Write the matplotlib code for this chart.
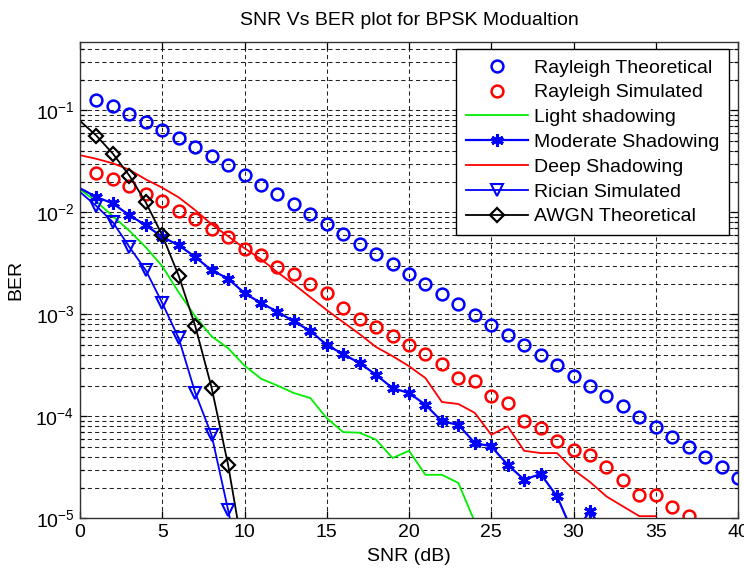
import numpy as np
import matplotlib
matplotlib.use('Agg')
import matplotlib.pyplot as plt
from matplotlib.ticker import LogLocator, NullFormatter

plt.rcParams['font.family'] = ['Liberation Sans', 'DejaVu Sans']
plt.rcParams['font.size'] = 14
plt.rcParams['mathtext.fontset'] = 'custom'
plt.rcParams['mathtext.rm'] = 'Liberation Sans'
plt.rcParams['mathtext.it'] = 'Liberation Sans:italic'
plt.rcParams['axes.unicode_minus'] = False

# SNR axis (dB)
snr = list(range(0, 41))

# values, index = SNR in dB (missing -> off the chart)
rayleigh_theory = [None, 0.127, 0.109, 0.0919, 0.0771, 0.0642, 0.0530, 0.0435, 0.0355, 0.0288,
                   0.0233, 0.0187, 0.0150, 0.0121, 0.00967, 0.00774, 0.00616, 0.00491, 0.00392, 0.00312,
                   0.00248, 0.00197, 0.00157, 0.00125, 0.000993, 0.000789, 0.000628, 0.000499, 0.000396, 0.000315,
                   0.00025, 0.000199, 0.000158, 0.000125, 9.95e-5, 7.91e-5, 6.28e-5, 4.99e-5, 3.96e-5, 3.15e-5,
                   2.5e-5]
rayleigh_sim = [None, 0.0243, 0.0214, 0.0181, 0.0150, 0.0129, 0.0103, 0.00867, 0.00692, 0.00573,
                0.00441, 0.00379, 0.00291, 0.00251, 0.00200, 0.00161, 0.00115, 0.000902, 0.000743, 0.000619,
                0.000497, 0.000406, 0.000324, 0.000240, 0.000223, 0.000157, 0.000135, 8.91e-5, 7.65e-5, 5.75e-5,
                4.70e-5, 4.20e-5, 3.16e-5, 2.39e-5, 1.68e-5, 1.68e-5, 1.28e-5, 1.05e-5]
light_shadow = [0.0168, 0.0127, 0.00914, 0.00659, 0.00454, 0.00296, 0.00164, 0.000957, 0.000607, 0.000466,
                0.000314, 0.000234, 0.000200, 0.000169, 0.000151, 9.59e-5, 7.00e-5, 6.90e-5, 5.89e-5, 3.90e-5,
                4.59e-5, 2.67e-5, 2.67e-5, 2.22e-5, 9.2e-6]
moderate_shadow = [0.0172, 0.0141, 0.0122, 0.00935, 0.00746, 0.00573, 0.00475, 0.00365, 0.00270, 0.00224,
                   0.00161, 0.00129, 0.00106, 0.000850, 0.000687, 0.000501, 0.000406, 0.000332, 0.000255, 0.000189,
                   0.000169, 0.000130, 8.91e-5, 8.26e-5, 5.47e-5, 5.07e-5, 3.35e-5, 2.39e-5, 2.72e-5, 1.64e-5,
                   7e-6, 1.17e-5, 7e-6]
deep_shadow = [0.0363, 0.0334, 0.0302, 0.0261, 0.0210, 0.0174, 0.0140, 0.0105, 0.00763, 0.00582,
               0.00444, 0.00347, 0.00258, 0.00197, 0.00147, 0.00110, 0.000837, 0.000639, 0.000477, 0.000389,
               0.000310, 0.000237, 0.000138, 0.000132, 0.000108, 6.59e-5, 7.96e-5, 4.59e-5, 4.36e-5, 4.36e-5,
               2.99e-5, 2.27e-5, 1.64e-5, 1.31e-5, 1.05e-5, 1.05e-5]
rician_sim = [0.0158, 0.0115, 0.00798, 0.00457, 0.00270, 0.00129, 0.000583, 0.000171, 6.55e-5, 1.21e-5,
              2e-6]
awgn_theory = [0.0786, 0.0563, 0.0375, 0.0229, 0.0125, 0.00595, 0.00239, 0.000773, 0.000191, 3.36e-5,
               3.87e-6]

labels = ['Rayleigh Theoretical', 'Rayleigh Simulated', 'Light shadowing', 'Moderate Shadowing',
          'Deep Shadowing', 'Rician Simulated', 'AWGN Theoretical']


def pad(vals):
    out = np.full(len(snr), np.nan)
    for i, v in enumerate(vals):
        if v is not None:
            out[i] = v
    return out


x = np.array(snr)
skip0 = list(range(1, len(snr)))

fig = plt.figure(figsize=(7.44, 5.70), dpi=100)
ax = fig.add_axes([80/744, 1-518.3/570, 658/744, 476.6/570])

ax.semilogy(x, pad(rayleigh_theory), ls='none', marker='o', ms=8.5, mfc='none', mec='b', mew=1.8,
            label=labels[0])
ax.semilogy(x, pad(rayleigh_sim), ls='none', marker='o', ms=8.5, mfc='none', mec='r', mew=1.8,
            label=labels[1])
ax.semilogy(x, pad(light_shadow), color='#00ee00', lw=1.3, label=labels[2])
ax.semilogy(x, pad(moderate_shadow), color='b', lw=1.6, marker=(6, 2, 0), ms=9, mew=2.2,
            markevery=skip0, label=labels[3])
ax.semilogy(x, pad(deep_shadow), color='r', lw=1.3, label=labels[4])
ax.semilogy(x, pad(rician_sim), color='b', lw=1.3, marker='v', ms=9, mfc='none', mew=1.5,
            markevery=skip0, label=labels[5])
ax.semilogy(x, pad(awgn_theory), color='k', lw=1.3, marker='D', ms=7, mfc='none', mew=1.6,
            markevery=skip0, label=labels[6])

ax.set_xlim(0, 40)
ax.set_ylim(1e-5, 0.47)
ax.set_xticks(range(0, 41, 5))
ax.yaxis.set_major_locator(LogLocator(base=10, numticks=10))
ax.yaxis.set_minor_locator(LogLocator(base=10, subs=np.arange(2, 10), numticks=20))
ax.yaxis.set_minor_formatter(NullFormatter())

ax.set_axisbelow(True)
ax.grid(True, which='major', color='#222222', lw=0.75, ls=(0, (4, 3)))
ax.yaxis.grid(True, which='minor', color='#222222', lw=0.75, ls=(0, (4, 3)))

ax.tick_params(which='both', direction='in', top=True, right=True, width=0.9)
ax.tick_params(which='major', length=5, pad=4)
ax.tick_params(which='minor', length=3)
for s in ax.spines.values():
    s.set_linewidth(1.0)
    s.set_color('#333333')

ax.set_title('SNR Vs BER plot for BPSK Modualtion', fontsize=14, pad=12)
ax.set_xlabel('SNR (dB)')
ax.set_ylabel('BER')
ax.yaxis.set_label_coords(-0.084, 0.5)
ax.xaxis.set_label_coords(0.5, -0.062)

leg = ax.legend(loc='upper right', bbox_to_anchor=(729/744, 1-49.3/570), bbox_transform=fig.transFigure,
                borderaxespad=0, fancybox=False, framealpha=1, edgecolor='k', numpoints=1,
                handlelength=3.2, handletextpad=0.3, labelspacing=0.37, borderpad=0.5)
leg.get_frame().set_linewidth(1.0)

fig.savefig('out.png', dpi=100)
